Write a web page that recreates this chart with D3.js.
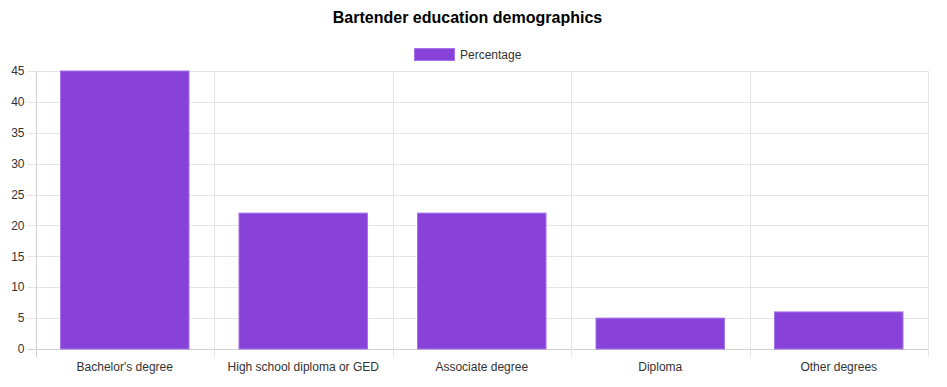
<!DOCTYPE html>
<html>
<head>
<meta charset="utf-8">
<script src="https://cdn.jsdelivr.net/npm/d3@7"></script>
<style>
    body { margin: 0; background: #fff; }
    svg { display: block; font-family: "Liberation Sans", Arial, Helvetica, sans-serif; }
</style>
</head>
<body>
<svg id="chart"></svg>
<script>
const categories = ["Bachelor's degree", "High school diploma or GED", "Associate degree", "Diploma", "Other degrees"];
const percentages = [45, 22, 22, 5, 6];
const yTicks = [0, 5, 10, 15, 20, 25, 30, 35, 40, 45];

const width = 947;
const height = 387;
const margin = { top: 71, right: 19, bottom: 38, left: 35.5 };

const barFill = '#8842d9';
const barStroke = '#a674eb';
const gridColor = '#e5e5e5';
const axisColor = '#d0d0d0';
const textColor = '#333';

const svg = d3.select('#chart')
    .attr('width', width)
    .attr('height', height);

const x = d3.scaleBand()
    .domain(categories)
    .range([margin.left, width - margin.right])
    .paddingInner(0)
    .paddingOuter(0);

const y = d3.scaleLinear()
    .domain([0, 45])
    .range([height - margin.bottom, margin.top]);

// Title
svg.append('text')
    .attr('x', 467.5)
    .attr('y', 23)
    .attr('text-anchor', 'middle')
    .style('font-size', '16px')
    .style('font-weight', 'bold')
    .style('fill', '#000')
    .text('Bartender education demographics');

// Legend
const legend = svg.append('g');
legend.append('rect')
    .attr('x', 414.5)
    .attr('y', 48.5)
    .attr('width', 40)
    .attr('height', 12)
    .attr('fill', barFill)
    .attr('stroke', barStroke)
    .attr('stroke-width', 1);
legend.append('text')
    .attr('x', 460)
    .attr('y', 55)
    .attr('dy', '0.35em')
    .style('font-size', '12px')
    .style('fill', textColor)
    .text('Percentage');

// Horizontal grid lines + y tick marks
const grid = svg.append('g');
grid.selectAll('.hgrid')
    .data(yTicks)
    .enter().append('line')
    .attr('x1', margin.left - 8)
    .attr('x2', width - margin.right)
    .attr('y1', d => Math.round(y(d)) + 0.5)
    .attr('y2', d => Math.round(y(d)) + 0.5)
    .attr('stroke', d => d === 0 ? axisColor : gridColor)
    .attr('stroke-width', 1);

// Vertical grid lines (category boundaries)
const boundaries = categories.map(c => x(c) + x.bandwidth()).concat([margin.left]);
grid.selectAll('.vgrid')
    .data(boundaries)
    .enter().append('line')
    .attr('x1', d => Math.round(d) + 0.5)
    .attr('x2', d => Math.round(d) + 0.5)
    .attr('y1', margin.top)
    .attr('y2', height - margin.bottom + 8)
    .attr('stroke', (d, i) => i === boundaries.length - 1 ? axisColor : gridColor)
    .attr('stroke-width', 1);

// Y tick labels
svg.append('g')
    .selectAll('text')
    .data(yTicks)
    .enter().append('text')
    .attr('x', margin.left - 11)
    .attr('y', d => y(d))
    .attr('dy', '0.35em')
    .attr('text-anchor', 'end')
    .style('font-size', '12px')
    .style('fill', textColor)
    .text(d => d);

// X tick labels
svg.append('g')
    .selectAll('text')
    .data(categories)
    .enter().append('text')
    .attr('x', d => x(d) + x.bandwidth() / 2)
    .attr('y', height - margin.bottom + 18)
    .attr('dy', '0.35em')
    .attr('text-anchor', 'middle')
    .style('font-size', '12px')
    .style('fill', textColor)
    .text(d => d);

// Bars
const barWidth = x.bandwidth() * 0.72;
svg.append('g')
    .selectAll('rect')
    .data(percentages)
    .enter().append('rect')
    .attr('x', (d, i) => x(categories[i]) + (x.bandwidth() - barWidth) / 2)
    .attr('y', d => y(d))
    .attr('width', barWidth)
    .attr('height', d => y(0) - y(d))
    .attr('fill', barFill)
    .attr('stroke', barStroke)
    .attr('stroke-width', 1);
</script>
</body>
</html>
